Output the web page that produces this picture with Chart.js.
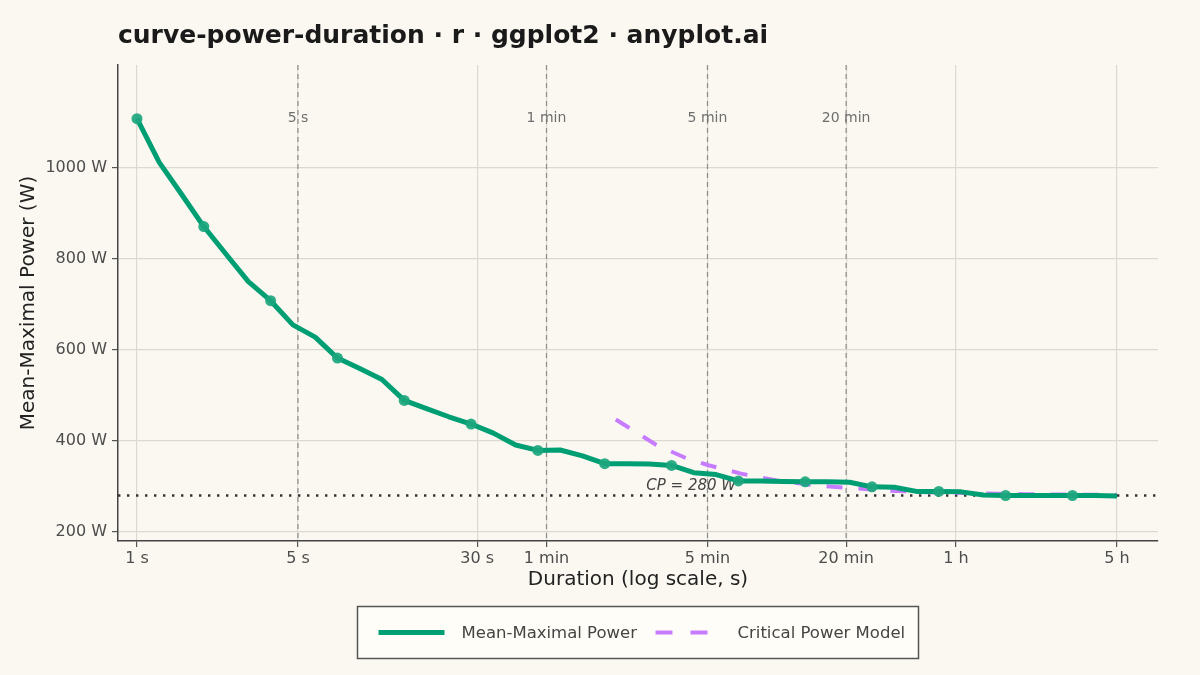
<!DOCTYPE html>
<html>
<head>
<meta charset="utf-8">
<title>curve-power-duration</title>
<script src="https://cdn.jsdelivr.net/npm/chart.js@4/dist/chart.umd.min.js"></script>
<style>
  html, body { margin: 0; padding: 0; background: #FAF8F1; }
  #wrap { width: 1200px; height: 675px; }
</style>
</head>
<body>
<div id="wrap"><canvas id="chart" width="1200" height="675"></canvas></div>
<script>
// durations in seconds (log-spaced, 1 s .. 5 h)
const durations = [
  1, 1.249, 1.561, 1.950, 2.437, 3.045, 3.804, 4.753, 5.939, 7.420,
  9.271, 11.58, 14.47, 18.08, 22.59, 28.23, 35.27, 44.07, 55.06, 68.80,
  85.96, 107.4, 134.2, 167.7, 209.5, 261.8, 327.1, 408.7, 510.6, 638.0,
  797.2, 995.5, 1244, 1554, 1942, 2426, 3031, 3787, 4732, 5912,
  7387, 9230, 11532, 14408, 18000
];
// mean-maximal power, watts
const mmpWatts = [
  1108, 1012, 942, 871, 810, 750, 708, 655, 628, 582,
  559, 535, 489, 471, 453, 437, 417, 391, 379, 380,
  367, 350, 350, 349, 346, 330, 326, 312, 312, 311,
  310, 310, 309, 299, 298, 289, 289, 288, 281, 280,
  280, 280, 280, 280, 279
];
// critical power model curve
const modelDurations = [120, 180, 240, 300, 420, 600, 900, 1200, 1800, 2700, 3600, 5400, 7200, 10800, 18000];
const modelWatts = [447, 391, 363, 347, 328, 313, 302, 297, 291, 287, 286, 284, 283, 282, 281];

const criticalPower = 280;
const cpLabelAt = 255; // seconds, where the CP text sits
const refDurations = [5, 60, 300, 1200];
const refLabels = ['5 s', '1 min', '5 min', '20 min'];
const xTickValues = [1, 5, 30, 60, 300, 1200, 3600, 18000];
const xTickLabels = ['1 s', '5 s', '30 s', '1 min', '5 min', '20 min', '1 h', '5 h'];
const yTickValues = [200, 400, 600, 800, 1000];

const GREEN = '#009E73';
const PURPLE = '#C77CFF';
const FONT = "'DejaVu Sans', 'Noto Sans', sans-serif";

Chart.defaults.font.family = FONT;

const mmpPoints = durations.map((d, i) => ({ x: d, y: mmpWatts[i] }));
const modelPoints = modelDurations.map((d, i) => ({ x: d, y: modelWatts[i] }));

const decorPlugin = {
  id: 'decor',
  beforeDraw(chart) {
    const ctx = chart.ctx;
    ctx.save();
    ctx.fillStyle = '#FAF8F1';
    ctx.fillRect(0, 0, chart.width, chart.height);
    ctx.restore();
  },
  beforeDatasetsDraw(chart) {
    const { ctx, chartArea, scales } = chart;
    ctx.save();
    // reference durations
    ctx.strokeStyle = '#8c8c8c';
    ctx.lineWidth = 1.2;
    ctx.setLineDash([5, 4]);
    refDurations.forEach(d => {
      const x = scales.x.getPixelForValue(d);
      ctx.beginPath();
      ctx.moveTo(x, chartArea.top);
      ctx.lineTo(x, chartArea.bottom);
      ctx.stroke();
    });
    ctx.setLineDash([]);
    ctx.fillStyle = '#6e6e6e';
    ctx.font = '14px ' + FONT;
    ctx.textAlign = 'center';
    ctx.textBaseline = 'middle';
    refDurations.forEach((d, i) => {
      ctx.fillText(refLabels[i], scales.x.getPixelForValue(d), 118);
    });

    // CP asymptote
    const yCp = scales.y.getPixelForValue(criticalPower);
    ctx.strokeStyle = '#333333';
    ctx.lineWidth = 2.4;
    ctx.setLineDash([2.4, 6.6]);
    ctx.beginPath();
    ctx.moveTo(chartArea.left, yCp);
    ctx.lineTo(chartArea.right, yCp);
    ctx.stroke();
    ctx.setLineDash([]);
    ctx.fillStyle = '#444444';
    ctx.font = 'italic 15px ' + FONT;
    ctx.textAlign = 'center';
    ctx.textBaseline = 'alphabetic';
    ctx.fillText('CP = ' + criticalPower + ' W', scales.x.getPixelForValue(cpLabelAt), yCp - 5);
    ctx.restore();
  },
  afterDraw(chart) {
    const ctx = chart.ctx;
    ctx.save();
    // title
    ctx.fillStyle = '#1a1a1a';
    ctx.font = 'bold 25px ' + FONT;
    ctx.textAlign = 'left';
    ctx.textBaseline = 'alphabetic';
    ctx.fillText('curve-power-duration \u00b7 r \u00b7 ggplot2 \u00b7 anyplot.ai', 118, 43);

    // legend
    const cx = (chart.chartArea.left + chart.chartArea.right) / 2;
    const bx = cx - 280.5, by = 606.5, bw = 561, bh = 52;
    const ly = by + bh / 2;
    ctx.fillStyle = '#FFFDF7';
    ctx.fillRect(bx, by, bw, bh);
    ctx.strokeStyle = '#555555';
    ctx.lineWidth = 1.5;
    ctx.strokeRect(bx, by, bw, bh);

    ctx.strokeStyle = GREEN;
    ctx.lineWidth = 5;
    ctx.beginPath();
    ctx.moveTo(bx + 21, ly);
    ctx.lineTo(bx + 87, ly);
    ctx.stroke();

    ctx.strokeStyle = PURPLE;
    ctx.lineWidth = 4;
    ctx.setLineDash([17, 18]);
    ctx.beginPath();
    ctx.moveTo(bx + 298, ly);
    ctx.lineTo(bx + 352, ly);
    ctx.stroke();
    ctx.setLineDash([]);

    ctx.fillStyle = '#444444';
    ctx.font = '16.5px ' + FONT;
    ctx.textBaseline = 'middle';
    ctx.fillText('Mean-Maximal Power', bx + 104, ly + 1);
    ctx.fillText('Critical Power Model', bx + 380, ly + 1);
    ctx.restore();
  }
};

new Chart(document.getElementById('chart'), {
  type: 'line',
  data: {
    datasets: [
      {
        label: 'Mean-Maximal Power',
        data: mmpPoints,
        borderColor: GREEN,
        borderWidth: 5,
        borderJoinStyle: 'round',
        tension: 0,
        pointRadius: ctx => (ctx.dataIndex % 3 === 0 ? 5.5 : 0),
        pointBackgroundColor: 'rgba(28, 166, 126, 0.92)',
        pointBorderWidth: 0,
        fill: false
      },
      {
        label: 'Critical Power Model',
        data: modelPoints,
        borderColor: PURPLE,
        borderWidth: 4,
        borderDash: [16, 16],
        tension: 0,
        pointRadius: 0,
        fill: false
      }
    ]
  },
  options: {
    responsive: false,
    animation: false,
    events: [],
    layout: { padding: { left: 0, top: 65, right: 42, bottom: 74 } },
    plugins: {
      legend: { display: false },
      title: { display: false },
      tooltip: { enabled: false }
    },
    scales: {
      x: {
        type: 'logarithmic',
        min: 0.827,
        max: 27130,
        afterBuildTicks: scale => { scale.ticks = xTickValues.map(v => ({ value: v })); },
        afterFit: scale => { scale.height = 60; },
        ticks: {
          autoSkip: false,
          maxRotation: 0,
          padding: 2,
          color: '#4d4d4d',
          font: { size: 16 },
          callback: (value, index) => xTickLabels[index]
        },
        grid: { color: '#dcd9d1', lineWidth: 1.2, tickLength: 6, tickColor: '#555555', tickWidth: 1.2 },
        border: { color: '#444444', width: 1.5 },
        title: {
          display: true,
          text: 'Duration (log scale, s)',
          color: '#222222',
          font: { size: 20 },
          padding: { top: 0, bottom: 9 }
        }
      },
      y: {
        type: 'linear',
        min: 180,
        max: 1226,
        afterBuildTicks: scale => { scale.ticks = yTickValues.map(v => ({ value: v })); },
        afterFit: scale => { scale.width = 118; },
        ticks: {
          padding: 5,
          color: '#4d4d4d',
          font: { size: 16 },
          callback: value => value + ' W'
        },
        grid: { color: '#dcd9d1', lineWidth: 1.2, tickLength: 6, tickColor: '#555555', tickWidth: 1.2 },
        border: { color: '#444444', width: 1.5 },
        title: {
          display: true,
          text: 'Mean-Maximal Power (W)',
          color: '#222222',
          font: { size: 20 },
          padding: { top: 17, bottom: 0 }
        }
      }
    }
  },
  plugins: [decorPlugin]
});
</script>
</body>
</html>
